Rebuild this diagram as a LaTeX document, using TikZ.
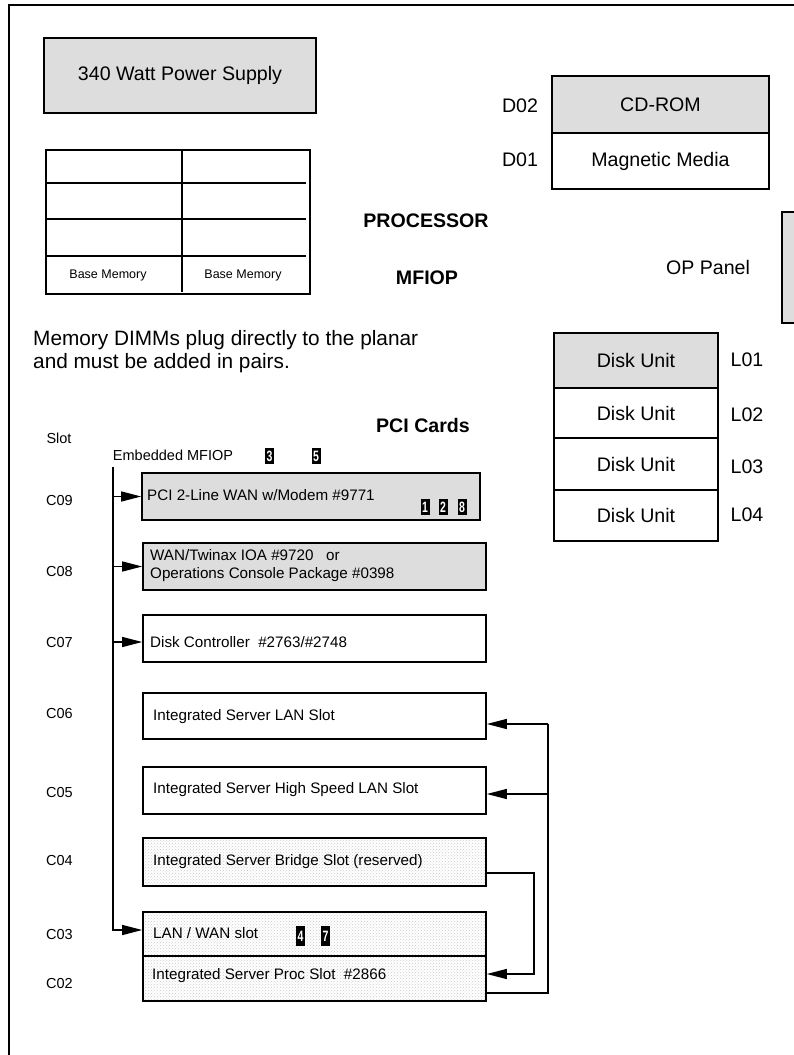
\documentclass[tikz,border=0pt]{standalone}
\usepackage{fontspec}
\setmainfont{Liberation Sans}
\usetikzlibrary{arrows.meta,patterns,calc}
\definecolor{boxgray}{RGB}{221,221,221}
\newcommand{\badgedigit}[1]{\scalebox{0.7}[1.0]{#1}}
\begin{document}
\begin{tikzpicture}[x=1pt,y=-1pt,
  big/.style={font=\fontsize{19.6}{23}\selectfont},
  bigb/.style={font=\fontsize{19.6}{23}\selectfont\bfseries},
  med/.style={font=\fontsize{14.5}{18}\selectfont},
  small/.style={font=\fontsize{12.5}{15}\selectfont},
  box/.style={draw, line width=1.6pt, rectangle, inner sep=0pt},
  graybox/.style={box, fill=boxgray},
  dotbox/.style={box, preaction={fill=white}, pattern=crosshatch dots, pattern color=gray!40},
  gridline/.style={line width=1.5pt},
  conn/.style={line width=1.3pt},
  arr/.style={conn, -{Triangle[length=20pt,width=10pt]}},
  badge/.style={fill=black, text=white, font=\fontsize{15}{15}\selectfont\bfseries, inner sep=0pt, minimum width=9, minimum height=16},
  cardtxt/.style={font=\fontsize{15.2}{18}\selectfont, anchor=west, inner sep=0pt, align=left}
]
\useasboundingbox (0,0) rectangle (794,1055);
\clip (0,0) rectangle (794,1055);

% frame
\draw[line width=1.8pt] (9,1070) -- (9,5) -- (810,5);

% power supply
\node[graybox, big, minimum width=272, minimum height=75] (ps) at (180,75.5) {340 Watt Power Supply};

% memory grid
\node[box, minimum width=264, minimum height=144] (mem) at (178,222) {};
\draw[gridline] (mem.north -| 182,0) -- (182,292);
\draw[gridline] (mem.west |- 0,183) -- (306,183);
\draw[gridline] (mem.west |- 0,219) -- (306,219);
\draw[gridline] (mem.west |- 0,256) -- (306,256);
\node[small] (bm1) at (108,275) {Base Memory};
\node[small] (bm2) at (243,275) {Base Memory};

\node[bigb] (proc) at (426,221) {PROCESSOR};
\node[bigb] (mfiop) at (427,278) {MFIOP};

% media
\node[graybox, big, minimum width=217, minimum height=57] (cdrom) at (660.5,104.5) {CD-ROM};
\node[box, big, minimum width=217, minimum height=56] (mag) at (660.5,161) {Magnetic Media};
\node[big] (d02) at (520,106) {D02};
\node[big] (d01) at (520,160) {D01};

% OP panel
\node[big] (optxt) at (708,267) {OP Panel};
\node[graybox, minimum width=40, minimum height=111] (opbox) at (802,267.5) {};

% memory note
\node[font=\fontsize{20.8}{23}\selectfont, align=left, anchor=west, inner sep=0pt] (memnote) at (33,351.5) {Memory DIMMs plug directly to the planar\\and must be added in pairs.};

% disk units
\node[graybox, big, line width=2.2pt, minimum width=164, minimum height=55] (l01) at (636,360.5) {Disk Unit};
\node[box, big, minimum width=164, minimum height=50] (l02) at (636,413) {Disk Unit};
\node[box, big, minimum width=164, minimum height=52] (l03) at (636,464) {Disk Unit};
\node[box, big, minimum width=164, minimum height=51] (l04) at (636,515.5) {Disk Unit};
\node[big] (ll01) at (747,360) {L01};
\node[big] (ll02) at (747,415) {L02};
\node[big] (ll03) at (747,467) {L03};
\node[big] (ll04) at (747,515) {L04};

% PCI heading
\node[bigb] (pci) at (423,425) {PCI Cards};
\node[med] (slot) at (59,438) {Slot};
\node[med] (emb) at (173,455) {Embedded MFIOP};
\node[badge] (b3) at (269.5,456) {\badgedigit{3}};
\node[badge] (b5) at (316,456) {\badgedigit{5}};

% slot labels
\node[med] (s09) at (59.5,501) {C09};
\node[med] (s08) at (59.5,572) {C08};
\node[med] (s07) at (59.5,642) {C07};
\node[med] (s06) at (59.5,713) {C06};
\node[med] (s05) at (59.5,792) {C05};
\node[med] (s04) at (59.5,860) {C04};
\node[med] (s03) at (59.5,934) {C03};
\node[med] (s02) at (59.5,983) {C02};

% cards
\node[graybox, minimum width=338, minimum height=47] (c09) at (311,496.5) {};
\node[graybox, minimum width=343, minimum height=47] (c08) at (314.5,566.5) {};
\node[box, minimum width=343, minimum height=47] (c07) at (314.5,638.5) {};
\node[box, minimum width=343, minimum height=46] (c06) at (314.5,716) {};
\node[box, minimum width=343, minimum height=47] (c05) at (314.5,790.5) {};
\node[dotbox, minimum width=343, minimum height=48] (c04) at (314.5,862) {};
\node[dotbox, minimum width=343, minimum height=44] (c03) at (314.5,934) {};
\node[dotbox, minimum width=343, minimum height=45] (c02) at (314.5,978.5) {};

\node[cardtxt] (t09) at (147,495) {PCI 2-Line WAN w/Modem \#9771};
\node[cardtxt] (t08) at (150,566) {WAN/Twinax IOA \#9720\ \ \ or\\Operations Console Package \#0398};
\node[cardtxt] (t07) at (150,642) {Disk Controller\ \ \#2763/\#2748};
\node[cardtxt] (t06) at (153,717) {Integrated Server LAN Slot};
\node[cardtxt] (t05) at (153,790) {Integrated Server High Speed LAN Slot};
\node[cardtxt] (t04) at (153,862) {Integrated Server Bridge Slot (reserved)};
\node[cardtxt] (t03) at (153,933) {LAN / WAN slot};
\node[cardtxt] (t02) at (152,976) {Integrated Server Proc Slot\ \ \#2866};

\node[badge] (b1) at (425,507) {\badgedigit{1}};
\node[badge] (b2) at (443,507) {\badgedigit{2}};
\node[badge] (b8) at (462,507) {\badgedigit{8}};
\node[badge, minimum height=20] (b4) at (300.5,936) {\badgedigit{4}};
\node[badge, minimum height=20] (b7) at (325.5,936) {\badgedigit{7}};

% left bus
\coordinate (bustop) at (113,467);
\coordinate (busbot) at (113,930);
\coordinate (a07) at (113,642);
\draw[arr] (bustop) -- (busbot) -- (busbot -| c03.west);
\draw[arr] (c09.west -| bustop) -- (c09.west);
\draw[arr] (c08.west -| bustop) -- (c08.west);
\draw[arr] (a07) -- (a07 -| c07.west);

% right bus
\coordinate (r06) at (548,724);
\coordinate (r05) at (548,794);
\coordinate (rbot) at (548,993);
\draw[conn] (r06) -- (rbot) -- (rbot -| c02.east);
\draw[arr] (r06) -- (r06 -| c06.east);
\draw[arr] (r05) -- (r05 -| c05.east);

% bridge to proc
\coordinate (k04) at (534,873);
\coordinate (k02) at (534,974);
\draw[arr] (k04 -| c04.east) -- (k04) -- (k02) -- (k02 -| c02.east);
\end{tikzpicture}
\end{document}
